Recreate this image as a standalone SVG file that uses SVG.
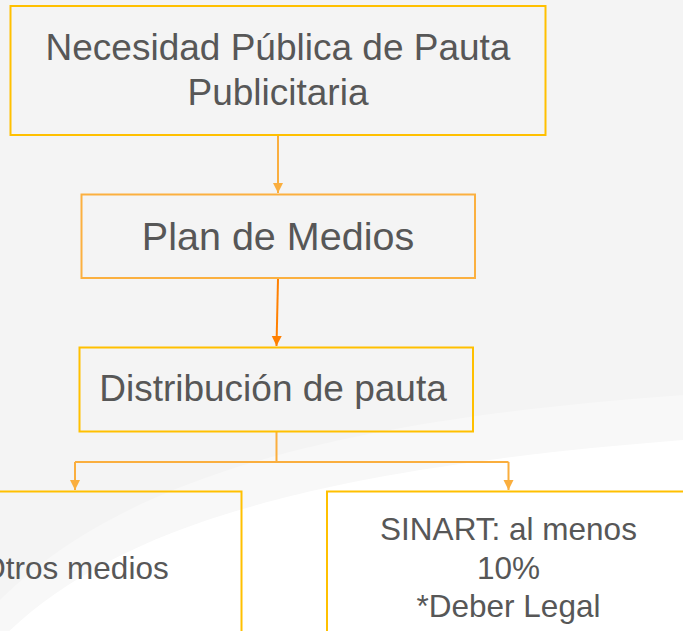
<svg xmlns="http://www.w3.org/2000/svg" width="683" height="631" viewBox="0 0 683 631">
<defs>
<style>
.box{fill:none;stroke:#FFC000;stroke-width:2}
.box2{fill:none;stroke:#FBB040;stroke-width:2}
.t{font-family:"Liberation Sans",Arial,sans-serif;fill:#575757;text-anchor:middle}
.c{fill:none;stroke:#FAAE3E;stroke-width:2}
.c2{fill:none;stroke:#FF8000;stroke-width:2}
</style>
<marker id="ah" viewBox="0 0 10 12" refX="10" refY="6" markerWidth="10" markerHeight="12" markerUnits="userSpaceOnUse" orient="auto">
<path d="M0,1 L10,6 L0,11 Z" fill="#FAAE3E"/>
</marker>
<marker id="ah2" viewBox="0 0 10 12" refX="10" refY="6" markerWidth="10" markerHeight="12" markerUnits="userSpaceOnUse" orient="auto">
<path d="M0,1 L10,6 L0,11 Z" fill="#FF8000"/>
</marker>
</defs>
<rect width="683" height="631" fill="#F4F4F4"/>
<path d="M0,600 C120,480 330,420 683,395 L683,631 L0,631 Z" fill="#ffffff" opacity="0.35"/>
<path d="M0,640 C110,530 300,470 683,440 L683,631 L0,631 Z" fill="#ffffff"/>
<g id="connectors">
<path class="c" d="M278,136 L278,193" marker-end="url(#ah)"/>
<path class="c2" d="M278,279 L276.5,346" marker-end="url(#ah2)"/>
<path class="c" d="M276.5,432 L276.5,462 M75,462 L508.5,462"/>
<path class="c" d="M75,462 L75,490" marker-end="url(#ah)"/>
<path class="c" d="M508.5,462 L508.5,490" marker-end="url(#ah)"/>
</g>
<g id="n1">
<rect class="box" x="10.5" y="6" width="535" height="129"/>
<text class="t" x="278" y="60" font-size="37">Necesidad Pública de Pauta</text>
<text class="t" x="278" y="105" font-size="37">Publicitaria</text>
</g>
<g id="n2">
<rect class="box2" x="81.5" y="194.5" width="393.5" height="83.5"/>
<text class="t" x="278" y="250" font-size="39.5">Plan de Medios</text>
</g>
<g id="n3">
<rect class="box" x="79.5" y="347.5" width="393.5" height="84"/>
<text class="t" x="273" y="401" font-size="37">Distribución de pauta</text>
</g>
<g id="n4">
<rect class="box" x="-92" y="491.5" width="333.5" height="160"/>
<text class="t" x="75" y="578.5" font-size="31.5">Otros medios</text>
</g>
<g id="n5">
<rect class="box" x="327" y="491.5" width="363" height="160"/>
<text class="t" x="508.5" y="539.5" font-size="31.5">SINART: al menos</text>
<text class="t" x="508.5" y="578.5" font-size="31.5">10%</text>
<text class="t" x="508.5" y="616.5" font-size="31.5">*Deber Legal</text>
</g>
</svg>
